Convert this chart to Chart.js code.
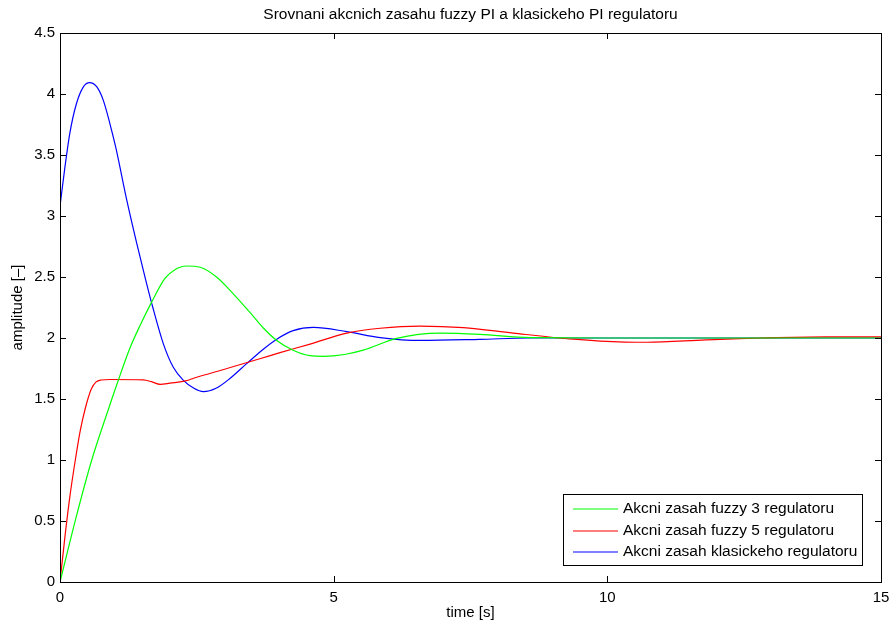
<!DOCTYPE html>
<html>
<head>
<meta charset="utf-8">
<script src="https://cdn.jsdelivr.net/npm/chart.js@4/dist/chart.umd.min.js"></script>
<style>
  body { margin: 0; background: #fff; }
  #wrap { width: 892px; height: 626px; }
</style>
</head>
<body>
<div id="wrap"><canvas id="akcni"></canvas></div>
<script>

const chartTitle = "Srovnani akcnich zasahu fuzzy PI a klasickeho PI regulatoru";
const xLabel = "time [s]";
const yLabel = "amplitude [–]";
const seriesNames = [
    "Akcni zasah fuzzy 3 regulatoru",
    "Akcni zasah fuzzy 5 regulatoru",
    "Akcni zasah klasickeho regulatoru"
];

// fuzzy 3 (green)
const greenT = [0, 0.3, 0.58, 0.88, 1.07, 1.28, 1.46, 1.67, 1.92, 2.1, 2.31, 2.56, 2.86, 3.17, 3.47, 3.72, 3.96, 4.26, 4.57, 4.81, 5.2, 5.54, 6.15, 6.94, 7.67, 8.59, 10, 12, 15];
const greenV = [0, 0.54, 1.0, 1.41, 1.66, 1.92, 2.1, 2.29, 2.49, 2.56, 2.59, 2.58, 2.5, 2.36, 2.21, 2.08, 1.98, 1.9, 1.855, 1.85, 1.865, 1.9, 1.997, 2.04, 2.03, 2.003, 2.0, 2.0, 2.0];

// fuzzy 5 (red)
const redT = [0, 0.09, 0.18, 0.28, 0.37, 0.46, 0.57, 0.66, 0.75, 0.91, 1.52, 1.67, 1.83, 2.01, 2.31, 2.44, 3.05, 3.65, 4.02, 4.57, 5.24, 5.85, 6.58, 7.37, 8.28, 9.38, 9.87, 10.72, 11.8, 12.79, 14, 15];
const redV = [0, 0.37, 0.7, 1.0, 1.24, 1.42, 1.58, 1.64, 1.656, 1.66, 1.656, 1.642, 1.62, 1.63, 1.65, 1.67, 1.75, 1.83, 1.88, 1.95, 2.04, 2.08, 2.098, 2.085, 2.04, 1.99, 1.975, 1.965, 1.985, 2.0, 2.01, 2.01];

// klasicky PI (blue)
const blueT = [0, 0.09, 0.18, 0.3, 0.43, 0.54, 0.67, 0.79, 0.91, 1.02, 1.22, 1.4, 1.58, 1.69, 1.89, 2.07, 2.25, 2.44, 2.62, 2.86, 3.11, 3.41, 3.72, 3.96, 4.26, 4.63, 5.24, 5.85, 6.58, 7.67, 8.59, 10, 12, 15];
const blueV = [3.08, 3.4, 3.68, 3.92, 4.06, 4.093, 4.06, 3.95, 3.76, 3.56, 3.13, 2.78, 2.45, 2.26, 1.95, 1.76, 1.655, 1.59, 1.56, 1.59, 1.67, 1.79, 1.91, 1.99, 2.06, 2.087, 2.052, 2.0035, 1.98, 1.989, 2.0, 2.0, 2.0, 2.0];

const xTicks = [0, 5, 10, 15];
const yTicks = [0, 0.5, 1, 1.5, 2, 2.5, 3, 3.5, 4, 4.5];

const colors = ['#00ff00', '#ff0000', '#0000ff'];
const FONT = '"Liberation Sans", Arial, Helvetica, sans-serif';
const FS = 15;

function pts(t, v){
    return t.map((x, i) => ({ x: x, y: v[i] }));
}

function noPad(s){
    s.paddingLeft = 0;
    s.paddingRight = 0;
    s.paddingTop = 0;
    s.paddingBottom = 0;
}

// frame, inward ticks, title, axis labels and legend in MATLAB style
const matlabLook = {
    id: 'matlabLook',
    afterDraw(chart){
        const ctx = chart.ctx;
        const a = chart.chartArea;
        const xs = chart.scales.x;
        const ys = chart.scales.y;
        ctx.save();

        ctx.strokeStyle = '#000';
        ctx.lineWidth = 1;
        ctx.strokeRect(a.left + 0.5, a.top + 0.5, a.right - a.left, a.bottom - a.top);

        ctx.beginPath();
        xTicks.forEach(t => {
            let px = Math.round(xs.getPixelForValue(t)) + 0.5;
            ctx.moveTo(px, a.bottom); ctx.lineTo(px, a.bottom - 6);
            ctx.moveTo(px, a.top); ctx.lineTo(px, a.top + 6);
        });
        yTicks.forEach(v => {
            let py = Math.round(ys.getPixelForValue(v)) + 0.5;
            ctx.moveTo(a.left, py); ctx.lineTo(a.left + 6, py);
            ctx.moveTo(a.right, py); ctx.lineTo(a.right - 6, py);
        });
        ctx.stroke();

        ctx.fillStyle = '#000';
        ctx.font = '15.5px ' + FONT;
        ctx.textAlign = 'center';
        ctx.textBaseline = 'middle';
        ctx.fillText(chartTitle, (a.left + a.right) / 2, 15);
        ctx.font = FS + 'px ' + FONT;
        ctx.fillText(xLabel, (a.left + a.right) / 2, 613);

        ctx.save();
        ctx.translate(18, (a.top + a.bottom) / 2);
        ctx.rotate(-Math.PI / 2);
        ctx.fillText(yLabel, 0, 0);
        ctx.restore();

        // legend box
        let bx = 563, by = 494, bw = 299, bh = 71;
        ctx.fillStyle = '#fff';
        ctx.fillRect(bx, by, bw, bh);
        ctx.strokeStyle = '#000';
        ctx.strokeRect(bx + 0.5, by + 0.5, bw, bh);
        ctx.textAlign = 'left';
        ctx.font = '15.5px ' + FONT;
        ctx.lineWidth = 1.2;
        seriesNames.forEach((name, i) => {
            let cy = 509 + i * 21.5;
            ctx.strokeStyle = colors[i];
            ctx.beginPath();
            ctx.moveTo(573, Math.round(cy));
            ctx.lineTo(618, Math.round(cy));
            ctx.stroke();
            ctx.fillStyle = '#000';
            ctx.fillText(name, 623, cy);
        });

        ctx.restore();
    }
};

new Chart(document.getElementById('akcni'), {
    type: 'scatter',
    data: {
        datasets: [
            { label: seriesNames[0], data: pts(greenT, greenV), borderColor: colors[0] },
            { label: seriesNames[1], data: pts(redT, redV), borderColor: colors[1] },
            { label: seriesNames[2], data: pts(blueT, blueV), borderColor: colors[2] }
        ].map(ds => Object.assign(ds, {
            showLine: true,
            borderWidth: 1.2,
            pointRadius: 0,
            fill: false,
            cubicInterpolationMode: 'monotone'
        }))
    },
    options: {
        responsive: true,
        maintainAspectRatio: false,
        animation: false,
        layout: { padding: { top: 33, right: 11, bottom: 0, left: 0 } },
        plugins: {
            legend: { display: false },
            title: { display: false },
            tooltip: { enabled: false }
        },
        scales: {
            x: {
                type: 'linear',
                min: 0, max: 15,
                afterBuildTicks: s => { s.ticks = xTicks.map(v => ({ value: v })); },
                afterFit: s => { s.height = 44; noPad(s); },
                grid: { display: false, drawTicks: false },
                border: { display: false },
                ticks: { padding: 7, color: '#000', font: { family: FONT, size: FS }, callback: v => String(v) }
            },
            y: {
                type: 'linear',
                min: 0, max: 4.5,
                afterBuildTicks: s => { s.ticks = yTicks.map(v => ({ value: v })); },
                afterFit: s => { s.width = 60; noPad(s); },
                grid: { display: false, drawTicks: false },
                border: { display: false },
                ticks: { padding: 5, color: '#000', font: { family: FONT, size: FS }, callback: v => String(v) }
            }
        }
    },
    plugins: [matlabLook]
});
</script>
</body>
</html>
